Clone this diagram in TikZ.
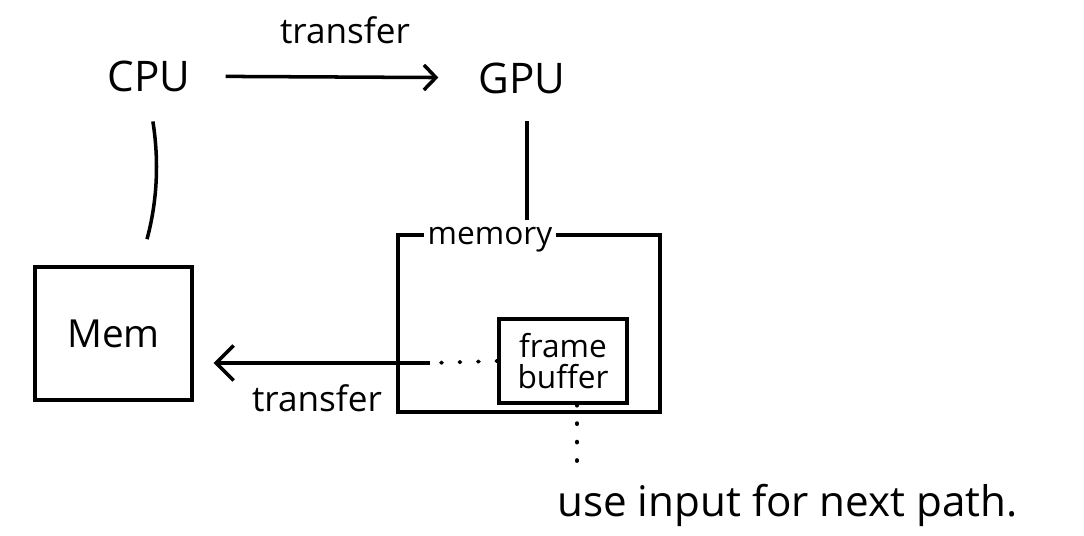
\documentclass[tikz,border=0pt]{standalone}
\usepackage{fontspec}
\setmainfont{Open Sans}
\usetikzlibrary{arrows.meta,positioning,calc}
\tikzset{
  >={Straight Barb[length=2.4mm,width=5mm]},
  hand/.style={font=\fontsize{20}{22}\selectfont,inner sep=2pt},
  membox/.style={rectangle,draw,line width=2pt},
  arr/.style={->,line width=2pt},
  dotline/.style={line width=2.2pt,line cap=round,dash pattern=on 0.5pt off 10pt},
}
\begin{document}
\begin{tikzpicture}[x=0.02cm,y=-0.02cm,line width=2pt]
    \useasboundingbox (0,0) rectangle (1084,536);

    \node[hand,font=\fontsize{24}{26}\selectfont] (CPU) at (149,76) {CPU};
    \node[hand,font=\fontsize{24}{26}\selectfont] (GPU) at (522,78) {GPU};
    \node[hand] (TOPLBL) at (345,30) {transfer};

    \node[membox,minimum width=3.14cm,minimum height=2.66cm,hand,font=\fontsize{22}{24}\selectfont] (MEM) at (113.5,333.5) {Mem};
    \node[membox,minimum width=5.24cm,minimum height=3.54cm] (MEMORY) at (529,323.5) {};
    \node[hand,fill=white,font=\fontsize{18}{20}\selectfont] (MEMLBL) at (490,240) {memory};
    \node[membox,minimum width=2.56cm,minimum height=1.68cm,align=center,
          font=\fontsize{18}{18}\selectfont] (FRAME) at (563,361) {frame\\buffer};

    \coordinate (SPLIT) at (430,363);
    \node[hand] (BOTLBL) at (317,398) {transfer};
    \node[hand,anchor=west,font=\fontsize{24}{26}\selectfont] (NOTE) at (552,505) {use input for next path.};

    % links
    \draw[arr,shorten <=0.6cm,shorten >=0.7cm] (CPU) -- (GPU);
    \draw[shorten <=0.5cm,shorten >=0.54cm] (CPU.south) to[bend left=12] ([xshift=0.53cm]MEM.north);
    \draw[shorten <=0.45cm,shorten >=0.26cm] ([xshift=0.1cm]GPU.south) -- ([xshift=0.1cm]GPU.south |- MEMORY.north);
    \draw[dotline] (FRAME.west) -- (SPLIT);
    \draw[->,>={Straight Barb[length=3.5mm,width=7mm]},shorten >=0.4cm] (SPLIT) -- (SPLIT -| MEM.east);
    \draw[dotline] ([xshift=0.28cm]FRAME.south) -- ([xshift=0.28cm]FRAME.south |- NOTE.north);
  \end{tikzpicture}
\end{document}
